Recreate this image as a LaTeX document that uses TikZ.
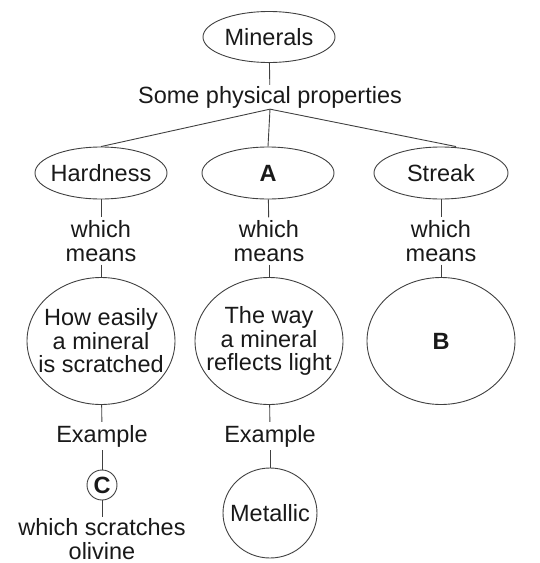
\documentclass[tikz,border=0pt]{standalone}
\usepackage{fontspec}
\setmainfont{Liberation Sans}
\usetikzlibrary{shapes.geometric,calc}
\begin{document}
\begin{tikzpicture}[x=1pt,y=-1pt,
  every node/.style={font=\fontsize{23.5}{23.5}\selectfont, text=black!90},
  conn/.style={draw=black!75, line width=0.9pt},
  oval/.style n args={2}{ellipse, draw=black!75, line width=0.9pt,
    inner sep=0pt, minimum width=#1, minimum height=#2},
  label/.style={align=center, inner xsep=2pt, inner ysep=3pt}]
  \useasboundingbox (0,0) rectangle (540,563);

  % top of the tree
  \node[oval={132pt}{51pt}] (min) at (269,37) {};
  \node at (min) {Minerals};
  \node[label, inner ysep=1pt] (props) at (270,97) {Some physical properties};

  % the three properties
  \node[oval={132pt}{52pt}] (h) at (101,173) {};
  \node at (h) {Hardness};
  \node[oval={132pt}{52pt}] (a) at (268,173) {};
  \node at (a) {\textbf{A}};
  \node[oval={134pt}{52pt}] (s) at (441,173) {};
  \node at (s) {Streak};

  \node[label] (wmh) at (101,241) {which\\means};
  \node[label] (wma) at (269,241) {which\\means};
  \node[label] (wms) at (441,241) {which\\means};

  % definitions
  \node[oval={148pt}{127pt}] (dh) at (101,341) {};
  \node[align=center] at (dh) {How easily\\a mineral\\is scratched};
  \node[oval={148pt}{127pt}] (da) at (269,341) {};
  \node[align=center] at (da) {The way\\a mineral\\reflects light};
  \node[oval={148pt}{127pt}] (ds) at (441,341) {};
  \node at (ds) {\textbf{B}};

  % examples
  \node[label] (exh) at (102,436) {Example};
  \node[label] (exa) at (270,436) {Example};
  \node[circle, draw=black!75, line width=0.9pt, inner sep=0pt,
    minimum size=30pt] (c) at (102,485) {};
  \node at (c) {\textbf{C}};
  \node[oval={94pt}{90pt}] (met) at (270,513) {};
  \node at (met) {Metallic};
  \node[label, inner ysep=1pt] (ws) at (102,539) {which scratches\\olivine};

  % connectors
  \draw[conn] (min) -- (props);
  \draw[conn] (props.south) -- (h.north);
  \draw[conn] (props.south) -- (a.north);
  \draw[conn] (props.south) -- ($(s.north)+(15,0)$);
  \draw[conn] (h) -- (wmh);
  \draw[conn] (a) -- (wma);
  \draw[conn] (s) -- (wms);
  \draw[conn] (wmh) -- (dh);
  \draw[conn] (wma) -- (da);
  \draw[conn] (wms) -- (ds);
  \draw[conn] (dh) -- (exh);
  \draw[conn] (da) -- (exa);
  \draw[conn] (exh) -- (c);
  \draw[conn] (exa) -- (met);
  \draw[conn] (c) -- (ws);
\end{tikzpicture}
\end{document}
